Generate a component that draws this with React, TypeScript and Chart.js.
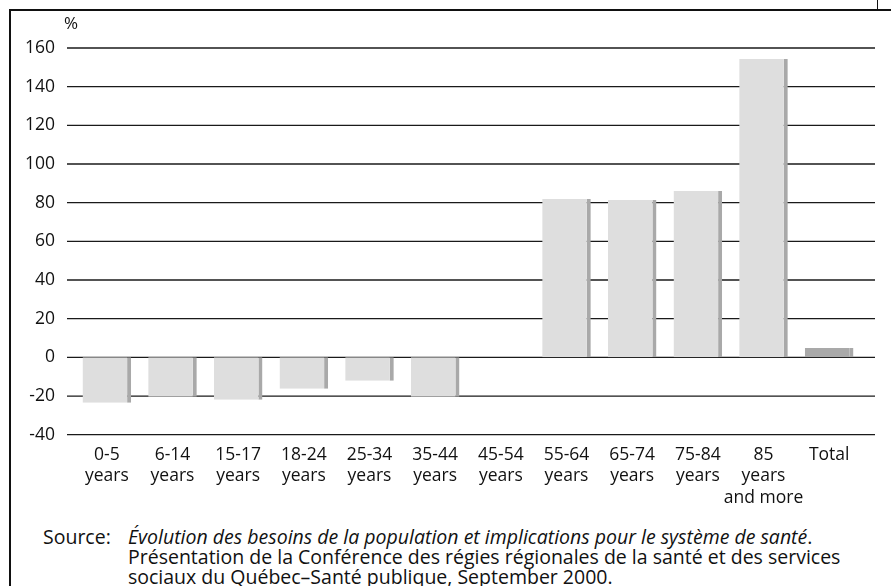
import React, { useEffect, useRef } from "react";
import { Chart, registerables } from "chart.js";

Chart.register(...registerables);

// Age groups (multi-line tick labels)
const categories: string[][] = [
  ["0-5", "years"],
  ["6-14", "years"],
  ["15-17", "years"],
  ["18-24", "years"],
  ["25-34", "years"],
  ["35-44", "years"],
  ["45-54", "years"],
  ["55-64", "years"],
  ["65-74", "years"],
  ["75-84", "years"],
  ["85", "years", "and more"],
  ["Total"],
];

// Projected change in each group, %
const changePct: number[] = [
  -23.5, -20.4, -21.9, -16.2, -12.1, -20.4, 0, 81.9, 81.4, 86.0, 154.3, 4.8,
];

const yMin = -40;
const yMax = 160;
const yStep = 20;

const FONT = "'Open Sans', 'Noto Sans', sans-serif";
const LIGHT = "#dedede";
const SHADE = "#a9a9a9";

// Horizontal rules at each y tick, running a little past the bar area on both sides,
// plus the "%" unit above the axis.
const rulesPlugin = {
  id: "rules",
  beforeDatasetsDraw(chart: any) {
    const { ctx, chartArea, scales } = chart;
    const y = scales.y;
    ctx.save();
    ctx.strokeStyle = "#1a1a1a";
    ctx.lineWidth = 1.3;
    y.ticks.forEach((t: any) => {
      const py = y.getPixelForValue(t.value);
      ctx.beginPath();
      ctx.moveTo(chartArea.left - 7, py);
      ctx.lineTo(chartArea.right + 13, py);
      ctx.stroke();
    });
    ctx.fillStyle = "#111";
    ctx.font = `500 17px ${FONT}`;
    ctx.textAlign = "center";
    ctx.textBaseline = "middle";
    ctx.fillText("%", chartArea.left - 3, chartArea.top - 24);
    ctx.restore();
  },
};

export default function App() {
  const canvasRef = useRef<HTMLCanvasElement | null>(null);

  useEffect(() => {
    if (!canvasRef.current) return;
    const n = changePct.length;
    const chart = new Chart(canvasRef.current, {
      type: "bar",
      data: {
        labels: categories,
        datasets: [
          {
            data: changePct,
            backgroundColor: changePct.map((_, i) => (i === n - 1 ? SHADE : LIGHT)),
            borderColor: SHADE,
            borderWidth: { top: 0, right: 4, bottom: 0, left: 0 },
            borderSkipped: false,
            categoryPercentage: 1,
            barPercentage: 0.74,
          },
        ],
      },
      options: {
        animation: false,
        responsive: false,
        maintainAspectRatio: false,
        layout: { padding: { top: 38, right: 29, left: 0, bottom: 0 } },
        plugins: {
          legend: { display: false },
          tooltip: { enabled: false },
          title: { display: false },
        },
        scales: {
          x: {
            grid: { display: false, drawTicks: false },
            border: { display: false },
            ticks: {
              color: "#111",
              font: { family: FONT, size: 17.5, weight: "500", lineHeight: 1.25 },
              padding: 9,
              maxRotation: 0,
              autoSkip: false,
            },
            afterFit(scale: any) {
              scale.height = 75.3;
            },
          },
          y: {
            min: yMin,
            max: yMax,
            grid: { display: false, drawTicks: false },
            border: { display: false },
            ticks: {
              stepSize: yStep,
              color: "#111",
              font: { family: FONT, size: 17.5, weight: "500" },
              padding: 19,
            },
            afterFit(scale: any) {
              scale.width = 64;
            },
          },
        },
      },
      plugins: [rulesPlugin],
    });
    return () => chart.destroy();
  }, []);

  return (
    <div
      style={{
        position: "absolute",
        left: 0,
        top: 0,
        width: 891,
        height: 586,
        overflow: "hidden",
        background: "#fff",
        fontFamily: FONT,
        color: "#111",
      }}
    >
      <div
        style={{
          position: "absolute",
          left: 9,
          top: 9,
          width: 900,
          height: 600,
          borderTop: "2px solid #111",
          borderLeft: "2px solid #111",
        }}
      />
      <div
        style={{
          position: "absolute",
          left: 877,
          top: 0,
          width: 1,
          height: 10,
          background: "#111",
        }}
      />
      <canvas
        ref={canvasRef}
        width={881}
        height={500}
        style={{ position: "absolute", left: 10, top: 10, width: 881, height: 500 }}
      />
      <div
        style={{
          position: "absolute",
          left: 43,
          top: 527,
          fontSize: 19.5,
          fontWeight: 500,
          lineHeight: "20px",
          display: "flex",
          whiteSpace: "nowrap",
        }}
      >
        <div style={{ width: 85 }}>Source:</div>
        <div>
          <i>Évolution des besoins de la population et implications pour le système de santé</i>.
          <br />
          Présentation de la Conférence des régies régionales de la santé et des services
          <br />
          sociaux du Québec–Santé publique, September 2000.
        </div>
      </div>
    </div>
  );
}
